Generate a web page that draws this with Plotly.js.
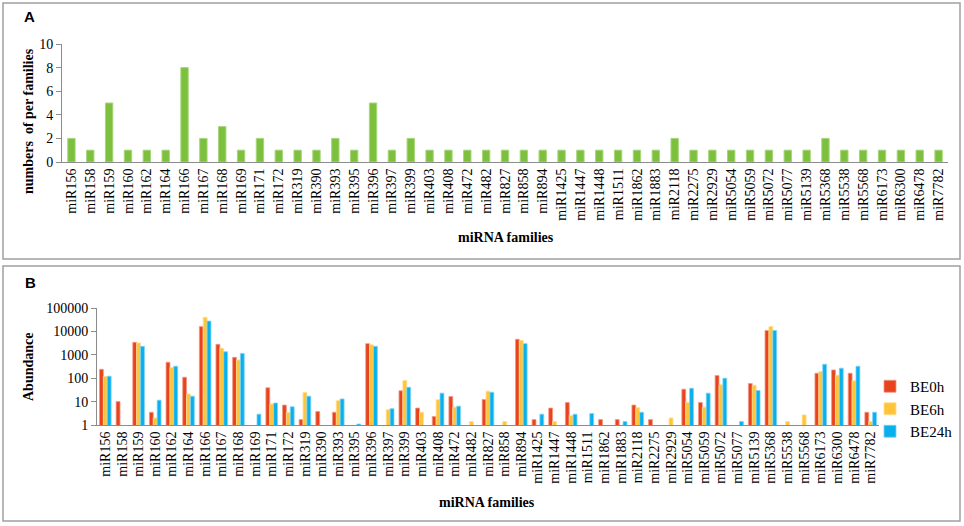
<!DOCTYPE html>
<html>
<head>
<meta charset="utf-8">
<script src="https://cdn.plot.ly/plotly-3.0.1.min.js"></script>
<style>
html,body{margin:0;padding:0;background:#fff;}
#chart{width:964px;height:526px;}
</style>
</head>
<body>
<div id="chart"></div>
<script>
// ---- data ----
var categories = ['miR156','miR158','miR159','miR160','miR162','miR164','miR166','miR167','miR168','miR169',
  'miR171','miR172','miR319','miR390','miR393','miR395','miR396','miR397','miR399','miR403',
  'miR408','miR472','miR482','miR827','miR858','miR894','miR1425','miR1447','miR1448','miR1511',
  'miR1862','miR1883','miR2118','miR2275','miR2929','miR5054','miR5059','miR5072','miR5077','miR5139',
  'miR5368','miR5538','miR5568','miR6173','miR6300','miR6478','miR7782'];

var familyCounts = [2,1,5,1,1,1,8,2,3,1,
  2,1,1,1,2,1,5,1,2,1,
  1,1,1,1,1,1,1,1,1,1,
  1,1,2,1,1,1,1,1,1,1,
  2,1,1,1,1,1,1];

var be0h = [240,10,3400,3.5,480,110,16000,2800,780,null,
  39,7.1,1.7,3.8,3.5,null,3000,null,29,5.3,
  2.3,16.6,null,12.4,null,4600,1.7,5.3,9.2,null,
  1.7,1.7,7.1,1.7,null,34,9.2,130,null,59,
  11000,null,null,163,225,163,3.5];

var be6h = [118,null,3200,2.0,285,21,40000,1900,600,null,
  7.8,3.4,24.5,null,11,null,2700,4.5,80,3.5,
  12,5.8,1.4,28,1.4,4150,null,1.4,2.5,null,
  null,null,5.5,null,2.0,9.2,5.8,52,null,50,
  16000,1.4,2.7,192,134,77,1.4];

var be24h = [122,null,2300,11.5,325,17,27500,1350,1150,2.9,
  8.7,6,17,null,13,1.1,2300,5,41,null,
  23,6.4,null,25,null,3000,2.9,null,2.9,3.1,
  null,1.4,3.5,null,null,37,23,100,1.4,30,
  11000,null,null,395,268,325,3.5];

var seriesNames = ['BE0h','BE6h','BE24h'];
var logTicks = [1,10,100,1000,10000,100000];
var logTickText = ['1','10','100','1000','10000','100000'];

// ---- helpers ----
var W = 964, H = 526;
function px(x){ return x / W; }
function py(y){ return 1 - y / H; }

var serif = '"Liberation Serif", "Times New Roman", Times, serif';
var sans = '"Liberation Sans", Arial, sans-serif';

var traces = [
  {type:'bar', x:categories, y:familyCounts, xaxis:'x', yaxis:'y', width:0.39,
   marker:{color:'#7cc03e', line:{color:'#a6d67a', width:1}}, showlegend:false, hoverinfo:'x+y'},
  {type:'bar', name:seriesNames[0], x:categories, y:be0h, xaxis:'x2', yaxis:'y2',
   marker:{color:'#e8431d', line:{color:'#f39a86', width:0.8}}},
  {type:'bar', name:seriesNames[1], x:categories, y:be6h, xaxis:'x2', yaxis:'y2',
   marker:{color:'#ffc53a', line:{color:'#ffdd8c', width:0.8}}},
  {type:'bar', name:seriesNames[2], x:categories, y:be24h, xaxis:'x2', yaxis:'y2',
   marker:{color:'#09b0ee', line:{color:'#7fd3f4', width:0.8}}}
];

var tickFont = {family:serif, size:14, color:'#000'};

var layout = {
  width:W, height:H,
  margin:{l:0,r:0,t:0,b:0},
  paper_bgcolor:'#fff', plot_bgcolor:'#fff',
  barmode:'group', bargap:0.3, bargroupgap:0,
  showlegend:true,
  legend:{x:px(870), xanchor:'left', y:py(409), yanchor:'middle',
    font:{family:serif, size:15, color:'#000'}, itemwidth:30, tracegroupgap:0,
    bgcolor:'rgba(0,0,0,0)'},
  xaxis:{domain:[px(62), px(948)], anchor:'y', type:'category',
    tickmode:'array', tickvals:categories, ticktext:categories,
    tickangle:-90, tickfont:tickFont, showline:true, linecolor:'#8c8c8c', linewidth:1,
    ticks:'', showgrid:false, zeroline:false, fixedrange:true},
  yaxis:{domain:[py(162), py(44)], anchor:'x', range:[0,10], dtick:2, tick0:0,
    tickfont:tickFont, showline:true, linecolor:'#8c8c8c', linewidth:1,
    ticks:'outside', ticklen:5, tickcolor:'#8c8c8c', showgrid:false, zeroline:false, fixedrange:true},
  xaxis2:{domain:[px(97), px(879)], anchor:'y2', type:'category',
    tickmode:'array', tickvals:categories, ticktext:categories,
    tickangle:-90, tickfont:tickFont, showline:true, linecolor:'#8c8c8c', linewidth:1,
    ticks:'', showgrid:false, zeroline:false, fixedrange:true},
  yaxis2:{domain:[py(425), py(308)], anchor:'x2', type:'log', range:[0,5],
    tickvals:logTicks, ticktext:logTickText,
    tickfont:tickFont, showline:true, linecolor:'#8c8c8c', linewidth:1,
    ticks:'outside', ticklen:5, tickcolor:'#8c8c8c', showgrid:false, zeroline:false, fixedrange:true},
  shapes:[
    {type:'rect', xref:'paper', yref:'paper', x0:px(3), x1:px(960), y0:py(259), y1:py(3),
     line:{color:'#a0a0a0', width:1.5}, fillcolor:'rgba(0,0,0,0)'},
    {type:'rect', xref:'paper', yref:'paper', x0:px(3), x1:px(960), y0:py(521), y1:py(266),
     line:{color:'#a0a0a0', width:1.5}, fillcolor:'rgba(0,0,0,0)'}
  ],
  annotations:[
    {text:'<b>A</b>', xref:'paper', yref:'paper', x:px(29), y:py(16.5), showarrow:false,
     xanchor:'center', yanchor:'middle', font:{family:sans, size:15, color:'#000'}},
    {text:'<b>B</b>', xref:'paper', yref:'paper', x:px(30), y:py(282), showarrow:false,
     xanchor:'center', yanchor:'middle', font:{family:sans, size:15, color:'#000'}},
    {text:'<b>numbers  of per families</b>', xref:'paper', yref:'paper', x:px(28), y:py(121),
     showarrow:false, textangle:-90, xanchor:'center', yanchor:'middle',
     font:{family:serif, size:14, color:'#000'}},
    {text:'<b>miRNA families</b>', xref:'paper', yref:'paper', x:px(506), y:py(237),
     showarrow:false, xanchor:'center', yanchor:'middle', font:{family:serif, size:14, color:'#000'}},
    {text:'<b>Abundance</b>', xref:'paper', yref:'paper', x:px(28), y:py(367),
     showarrow:false, textangle:-90, xanchor:'center', yanchor:'middle',
     font:{family:serif, size:14, color:'#000'}},
    {text:'<b>miRNA families</b>', xref:'paper', yref:'paper', x:px(487), y:py(502),
     showarrow:false, xanchor:'center', yanchor:'middle', font:{family:serif, size:14, color:'#000'}}
  ]
};

Plotly.newPlot('chart', traces, layout, {displayModeBar:false, staticPlot:true});
</script>
</body>
</html>
